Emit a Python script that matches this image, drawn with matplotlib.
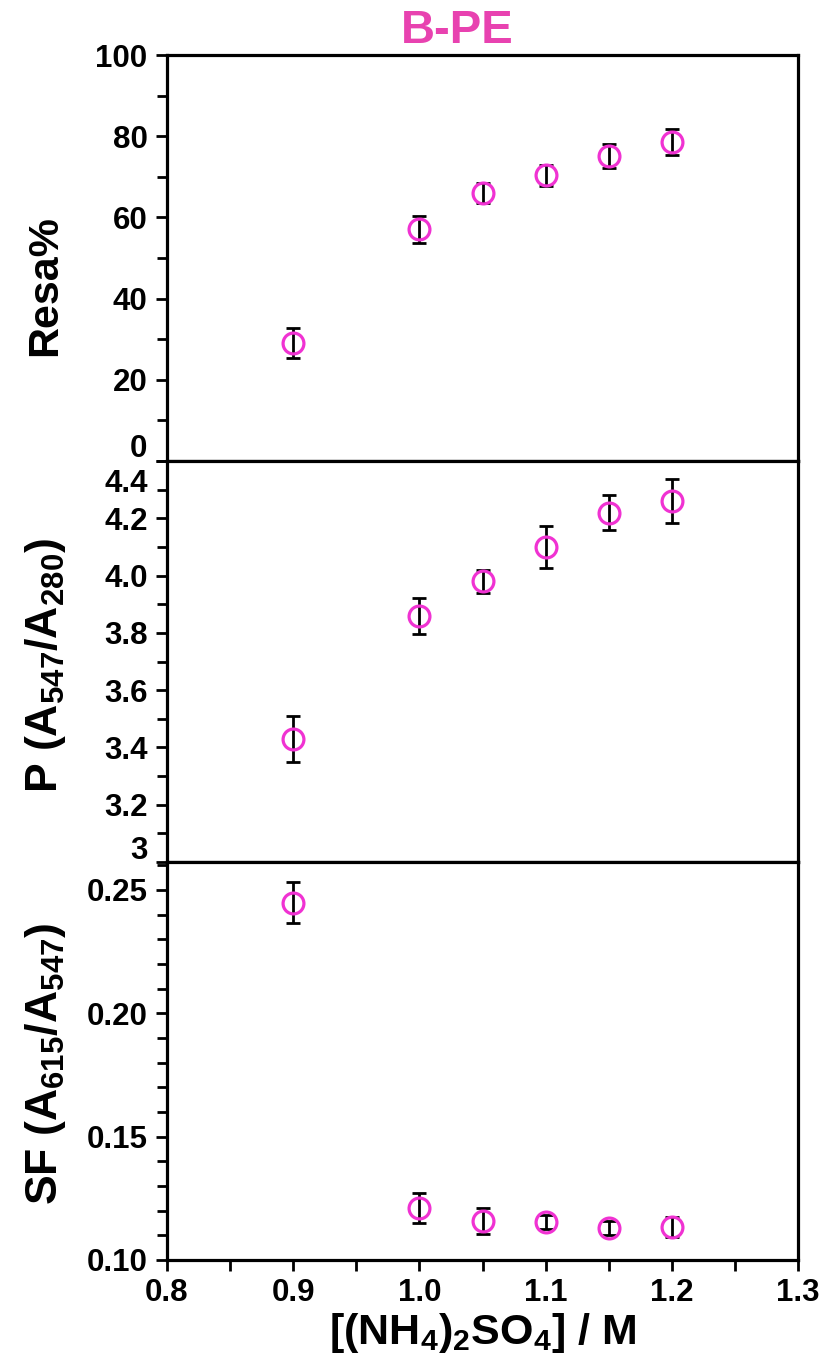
"""
Three stacked panels: Resa%, purity P and SF versus ammonium sulfate for B-PE.
"""

import matplotlib.pyplot as plt
from matplotlib.ticker import MultipleLocator
from matplotlib.transforms import ScaledTranslation

plt.rcParams["font.family"] = ["Liberation Sans", "DejaVu Sans"]
plt.rcParams["font.weight"] = "bold"
plt.rcParams["mathtext.fontset"] = "custom"
plt.rcParams["mathtext.rm"] = "Liberation Sans:bold"
plt.rcParams["mathtext.bf"] = "Liberation Sans:bold"
plt.rcParams["mathtext.it"] = "Liberation Sans:bold"

# Data
conc = [0.90, 1.00, 1.05, 1.10, 1.15, 1.20]
resa = [29.1, 57.1, 66.0, 70.4, 75.1, 78.6]
resa_err = [3.6, 3.3, 2.5, 2.6, 3.0, 3.3]
purity = [3.43, 3.86, 3.98, 4.10, 4.22, 4.26]
purity_err = [0.080, 0.063, 0.040, 0.072, 0.060, 0.078]
sf = [0.2447, 0.1211, 0.1158, 0.1154, 0.1130, 0.1134]
sf_err = [0.0083, 0.0060, 0.0053, 0.0030, 0.0028, 0.0040]

resa_ticks = [0, 20, 40, 60, 80, 100]
resa_labels = ["0", "20", "40", "60", "80", "100"]
p_ticks = [3.0, 3.2, 3.4, 3.6, 3.8, 4.0, 4.2, 4.4]
p_labels = ["3", "3.2", "3.4", "3.6", "3.8", "4.0", "4.2", "4.4"]
sf_ticks = [0.10, 0.15, 0.20, 0.25]
sf_labels = ["0.10", "0.15", "0.20", "0.25"]
x_ticks = [0.8, 0.9, 1.0, 1.1, 1.2, 1.3]
x_labels = ["0.8", "0.9", "1.0", "1.1", "1.2", "1.3"]

PINK = "#F032D2"
TITLE_PINK = "#E842B0"

fig = plt.figure(figsize=(8.25, 13.62), dpi=100)
left, width = 0.2024, 0.765
ax1 = fig.add_axes([left, 0.6615, width, 0.2981])
ax2 = fig.add_axes([left, 0.3671, width, 0.2944])
ax3 = fig.add_axes([left, 0.0749, width, 0.2922])

panels = [
    (ax1, resa, resa_err, (0, 100), resa_ticks, resa_labels, 10, "Resa%", 31),
    (ax2, purity, purity_err, (3.0, 4.4), p_ticks, p_labels, 0.1,
     "P (A$_{547}$/A$_{280}$)", 32),
    (ax3, sf, sf_err, (0.10, 0.2613), sf_ticks, sf_labels, 0.01,
     "SF (A$_{615}$/A$_{547}$)", 32),
]

label_centers_y = [286, 665, 1064]

for (ax, vals, errs, ylim, ticks, labels, minor, ylab, lsize), cy in zip(panels, label_centers_y):
    ax.errorbar(conc, vals, yerr=errs, fmt="none", ecolor="black",
                elinewidth=2, capsize=5, capthick=2, zorder=2)
    ax.plot(conc, vals, "o", ms=15, mfc="none", mec=PINK, mew=2.3, zorder=3)
    ax.set_xlim(0.8, 1.3)
    ax.set_ylim(*ylim)
    ax.set_yticks(ticks)
    ax.set_yticklabels(labels, fontsize=22.5, fontweight="bold")
    ax.yaxis.set_minor_locator(MultipleLocator(minor))
    ax.tick_params(axis="y", which="major", direction="out", length=8, width=2, pad=6)
    ax.tick_params(axis="y", which="minor", direction="out", length=7, width=2)
    for sp in ax.spines.values():
        sp.set_linewidth(2.3)
    ax.set_ylabel(ylab, fontsize=lsize, fontweight="bold", va="center")
    ax.yaxis.set_label_coords(45 / 825, 1 - cy / 1362, transform=fig.transFigure)

# only the bottom panel carries x ticks
for ax in (ax1, ax2):
    ax.tick_params(axis="x", which="both", bottom=False, labelbottom=False)

ax3.set_xticks(x_ticks)
ax3.set_xticklabels(x_labels, fontsize=22.5, fontweight="bold")
ax3.xaxis.set_minor_locator(MultipleLocator(0.05))
ax3.tick_params(axis="x", which="major", direction="out", length=8, width=2, pad=5)
ax3.tick_params(axis="x", which="minor", direction="out", length=8, width=2)
ax3.set_xlabel("[(NH$_4$)$_2$SO$_4$] / M", fontsize=31, fontweight="bold", labelpad=2)

# nudge the labels that sit on panel boundaries so they don't collide
def nudge(ax, idx, dy_px):
    lab = ax.yaxis.get_major_ticks()[idx].label1
    lab.set_verticalalignment("center")
    lab.set_transform(lab.get_transform()
                      + ScaledTranslation(0, dy_px / 100, fig.dpi_scale_trans))

nudge(ax1, 0, 12)
nudge(ax2, 0, 11)
nudge(ax2, -1, -23)

fig.text(457 / 825, 1 - 31 / 1362, "B-PE", fontsize=34, fontweight="bold",
         color=TITLE_PINK, ha="center", va="center")

fig.savefig("out.png", dpi=100)
plt.close(fig)
